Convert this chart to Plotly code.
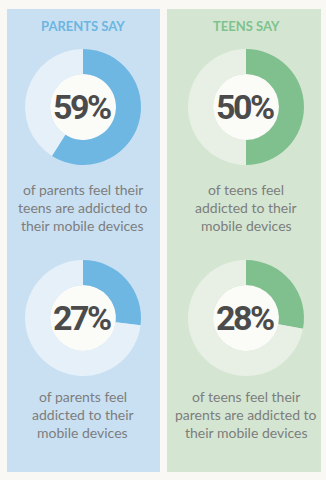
import plotly.graph_objects as go

W, H = 326, 480

# Panel headings and survey shares
panel_titles = ["PARENTS SAY", "TEENS SAY"]
shares = [59, 50, 27, 28]
captions = [
    ["of parents feel their", "teens are addicted to", "their mobile devices"],
    ["of teens feel", "addicted to their", "mobile devices"],
    ["of parents feel", "addicted to their", "mobile devices"],
    ["of teens feel their", "parents are addicted to", "their mobile devices"],
]

# Styling
panel_fill = ["#c9e0f3", "#d4e6d2"]
ring_fill = ["#6db7e2", "#80c08e"]
ring_rest = ["#e6f0f9", "#e8f0e5"]
title_color = ["#6cb6e0", "#7fc28d"]
bg = "#f9f8f4"
center_fill = "#fbfbf8"

panels_x = [(7, 160), (167, 321)]
donut_cx = [83, 246]
donut_cy = [107, 318]
r_out, r_in = 58, 33
cap_y = [[190, 207.5, 225], [396, 414, 432]]


def px(x):
    return x / W


def py(y):
    return 1 - y / H


fig = go.Figure()
shapes = []
annotations = []

for col in range(2):
    x0, x1 = panels_x[col]
    shapes.append(dict(type="rect", xref="paper", yref="paper",
                       x0=px(x0), x1=px(x1), y0=py(472), y1=py(9),
                       fillcolor=panel_fill[col], line=dict(width=0), layer="below"))
    annotations.append(dict(text=panel_titles[col], x=px(donut_cx[col]), y=py(26),
                            xref="paper", yref="paper", showarrow=False,
                            xanchor="center", yanchor="middle",
                            font=dict(family="Lato", size=13, color=title_color[col], weight=700)))

for i, val in enumerate(shares):
    row, col = divmod(i, 2)
    cx, cy = donut_cx[col], donut_cy[row]
    fig.add_trace(go.Pie(
        values=[val, 100 - val],
        marker=dict(colors=[ring_fill[col], ring_rest[col]], line=dict(width=0)),
        hole=r_in / r_out,
        sort=False, direction="clockwise", rotation=0,
        textinfo="none", hoverinfo="skip", showlegend=False,
        domain=dict(x=[px(cx - r_out), px(cx + r_out)], y=[py(cy + r_out), py(cy - r_out)]),
    ))
    shapes.append(dict(type="circle", xref="paper", yref="paper",
                       x0=px(cx - r_in), x1=px(cx + r_in), y0=py(cy + r_in), y1=py(cy - r_in),
                       fillcolor=center_fill, line=dict(width=0), layer="below"))
    label = f'<span style="letter-spacing:-2.5px">{val}%</span>'
    annotations.append(dict(text=label, x=px(cx - 1), y=py(cy), xref="paper", yref="paper",
                            showarrow=False, xanchor="center", yanchor="middle",
                            font=dict(family="Roboto", size=34, color="#4b4b4b", weight=700)))
    for line, ly in zip(captions[i], cap_y[row]):
        annotations.append(dict(text=line, x=px(cx), y=py(ly), xref="paper", yref="paper",
                                showarrow=False, xanchor="center", yanchor="middle",
                                font=dict(family="Lato", size=14, color="#7d7d7d")))

fig.update_layout(
    width=W, height=H, margin=dict(l=0, r=0, t=0, b=0),
    paper_bgcolor=bg, plot_bgcolor=bg,
    shapes=shapes, annotations=annotations,
)

fig.write_html("out.html", config={"displayModeBar": False})
